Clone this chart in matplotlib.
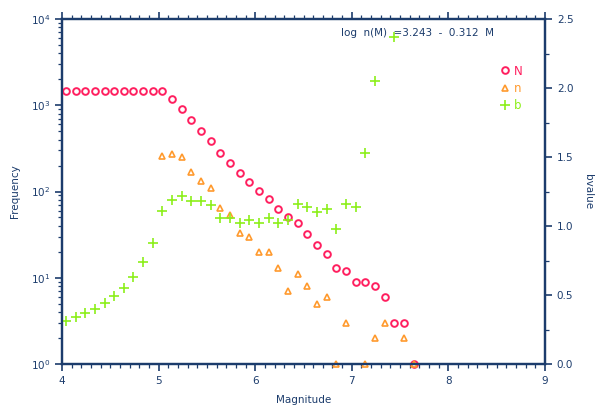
import numpy as np
import matplotlib
matplotlib.use("Agg")
import matplotlib.pyplot as plt
from matplotlib.ticker import MultipleLocator, LogLocator, NullFormatter

# magnitude bins
mags = [4.04, 4.14, 4.24, 4.34, 4.44, 4.54, 4.64, 4.74, 4.84, 4.94,
        5.04, 5.14, 5.24, 5.34, 5.44, 5.54, 5.64, 5.74, 5.84, 5.94,
        6.04, 6.14, 6.24, 6.34, 6.44, 6.54, 6.64, 6.74, 6.84, 6.94,
        7.04, 7.14, 7.24, 7.34, 7.44, 7.54, 7.64]

# cumulative number N(M)
cum_n = [1460, 1460, 1460, 1460, 1460, 1460, 1460, 1460, 1460, 1460,
         1460, 1180, 912, 675, 507, 385, 277, 215, 165, 130,
         101, 81, 63, 50, 43, 32, 24, 19, 13, 12,
         9, 9, 8, 6, 3, 3, 1]

# non-cumulative number n(M)
nan = np.nan
inc_n = [nan, nan, nan, nan, nan, nan, nan, nan, nan, nan,
         258, 272, 251, 168, 133, 110, 64, 54, 33, 30,
         20, 20, 13, 7, 11, 8, 5, 6, 1, 3,
         nan, 1, 2, 3, nan, 2, 1]

# b-value per bin
bval = [0.31, 0.34, 0.37, 0.40, 0.44, 0.49, 0.55, 0.63, 0.74, 0.88,
        1.11, 1.19, 1.22, 1.18, 1.18, 1.15, 1.06, 1.06, 1.02, 1.04,
        1.02, 1.06, 1.02, 1.04, 1.16, 1.14, 1.10, 1.12, 0.98, 1.16,
        1.14, 1.53, 2.05, nan, 2.37, nan, nan]

fit_text = "log  n(M)  =3.243  -  0.312  M"

AXC = "#1c3c6c"
PINK = "#ff1f5f"
ORANGE = "#ff9a2e"
GREEN = "#8cef1a"

plt.rcParams["font.family"] = "DejaVu Sans"
plt.rcParams["font.size"] = 7.5
plt.rcParams["mathtext.default"] = "regular"

fig = plt.figure(figsize=(6.0, 4.05), dpi=100)
ax = fig.add_axes([62 / 600, 1 - 364 / 405, 483 / 600, 345 / 405])
ax2 = ax.twinx()

h1, = ax.plot(mags, cum_n, linestyle="none", marker="o", ms=4.8, mfc="none",
              mec=PINK, mew=1.4, clip_on=False, label="N", zorder=3)
h2, = ax.plot(mags, inc_n, linestyle="none", marker="^", ms=4.8, mfc="none",
              mec=ORANGE, mew=1.2, clip_on=False, label="n", zorder=3)
h3, = ax2.plot(mags, bval, linestyle="none", marker="+", ms=6.5, mec=GREEN,
               mew=1.2, clip_on=False, label="b")

ax.set_yscale("log")
ax.set_xlim(4, 9)
ax.set_ylim(1, 1e4)
ax2.set_ylim(0, 2.5)

ax.xaxis.set_major_locator(MultipleLocator(1))
ax.xaxis.set_minor_locator(MultipleLocator(0.1))
ax.yaxis.set_major_locator(LogLocator(base=10, numticks=10))
ax.yaxis.set_minor_locator(LogLocator(base=10, subs=np.arange(2, 10), numticks=10))
ax.yaxis.set_minor_formatter(NullFormatter())
ax2.yaxis.set_major_locator(MultipleLocator(0.5))
ax2.yaxis.set_minor_locator(MultipleLocator(0.25))
ax2.yaxis.set_major_formatter(lambda v, p: f"{v:.1f}")

for a in (ax, ax2):
    for s in a.spines.values():
        s.set_color(AXC)
        s.set_linewidth(1.6)
    a.tick_params(which="both", colors=AXC, labelcolor=AXC, direction="out")
    a.tick_params(which="major", length=5, width=1.2)
    a.tick_params(which="minor", length=3, width=0.9)
ax.tick_params(axis="x", which="both", top=True)
ax.tick_params(axis="x", pad=4)

ax.set_xlabel("Magnitude", color=AXC, labelpad=6)
ax.set_ylabel("Frequency", color=AXC, labelpad=8)
ax2.set_ylabel("bvalue", color=AXC, rotation=270, labelpad=14)

ax.text(0.735, 0.958, fit_text, transform=ax.transAxes, ha="center", va="center",
        color=AXC, fontsize=7.5)

leg = ax2.legend(handles=[h1, h2, h3], loc="upper right", bbox_to_anchor=(0.965, 0.885),
                 frameon=False, handlelength=0.6, handletextpad=0.4,
                 labelspacing=0.35, borderpad=0, fontsize=8.5,
                 labelcolor="markeredgecolor")

fig.savefig("out.png", dpi=100)
